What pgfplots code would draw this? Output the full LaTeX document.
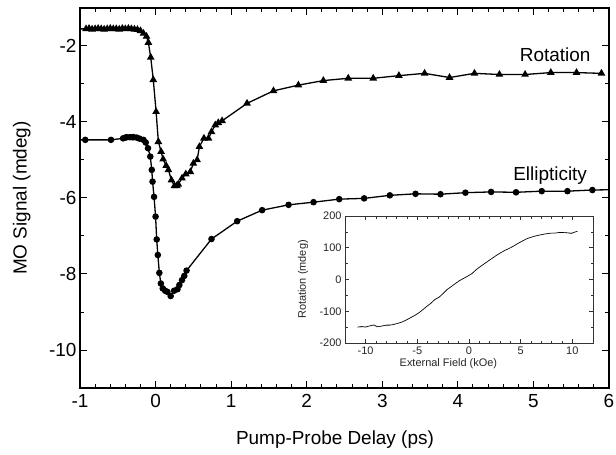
\documentclass[border=0pt]{standalone}
\usepackage{pgfplots}
\pgfplotsset{compat=1.18}
\usepackage{fontspec}
\setmainfont{Liberation Sans}

\pgfplotstableread{
x y
-1.10 -1.55
-0.92 -1.55
-0.88 -1.54
-0.84 -1.56
-0.80 -1.55
-0.76 -1.54
-0.72 -1.55
-0.68 -1.56
-0.64 -1.55
-0.60 -1.54
-0.56 -1.55
-0.52 -1.55
-0.48 -1.56
-0.44 -1.54
-0.40 -1.55
-0.36 -1.54
-0.32 -1.55
-0.28 -1.56
-0.24 -1.57
-0.20 -1.60
-0.16 -1.67
-0.12 -1.75
-0.095 -1.91
-0.064 -2.30
-0.03 -2.89
0.007 -3.73
0.037 -4.52
0.073 -4.78
0.10 -4.98
0.14 -5.15
0.17 -5.26
0.21 -5.53
0.25 -5.68
0.28 -5.68
0.30 -5.64
0.35 -5.48
0.40 -5.37
0.46 -5.31
0.50 -5.09
0.55 -5.00
0.58 -4.65
0.64 -4.43
0.70 -4.43
0.74 -4.26
0.79 -4.08
0.83 -4.02
0.88 -3.97
1.21 -3.51
1.56 -3.18
1.89 -3.03
2.22 -2.91
2.55 -2.85
2.88 -2.85
3.22 -2.78
3.56 -2.72
3.89 -2.83
4.22 -2.72
4.55 -2.75
4.89 -2.75
5.23 -2.70
5.57 -2.70
5.90 -2.72
}\rotdata

\pgfplotstableread{
x y
-1.10 -4.47
-0.93 -4.47
-0.59 -4.47
-0.43 -4.43
-0.40 -4.41
-0.38 -4.40
-0.34 -4.40
-0.31 -4.40
-0.29 -4.40
-0.25 -4.41
-0.21 -4.44
-0.16 -4.47
-0.13 -4.54
-0.10 -4.69
-0.07 -4.91
-0.05 -5.26
-0.04 -5.57
-0.02 -5.97
0.00 -6.49
0.015 -7.09
0.03 -7.50
0.05 -7.97
0.07 -8.25
0.095 -8.38
0.126 -8.44
0.157 -8.47
0.20 -8.58
0.245 -8.44
0.29 -8.40
0.315 -8.29
0.35 -8.16
0.38 -8.05
0.41 -7.91
0.74 -7.08
1.08 -6.61
1.41 -6.32
1.76 -6.18
2.09 -6.11
2.43 -6.03
2.76 -6.01
3.10 -5.93
3.44 -5.89
3.77 -5.90
4.10 -5.86
4.44 -5.84
4.77 -5.85
5.11 -5.82
5.45 -5.82
5.78 -5.79
6.10 -5.78
}\elldata

\pgfplotstableread{
x y
-10.8 -150
-10.4 -148
-10.0 -150
-9.6 -146
-9.2 -143
-8.9 -149
-8.5 -147
-8.1 -144
-7.7 -144
-7.3 -142
-6.9 -138
-6.5 -134
-6.1 -128
-5.7 -121
-5.3 -114
-4.9 -106
-4.5 -96
-4.1 -85
-3.7 -75
-3.3 -63
-2.9 -56
-2.5 -44
-2.1 -31
-1.7 -22
-1.3 -12
-0.9 -3
-0.5 4
-0.1 11
0.3 19
0.7 31
1.1 41
1.5 50
1.9 59
2.3 68
2.7 77
3.1 85
3.5 92
3.9 98
4.3 105
4.7 113
5.1 120
5.5 127
5.9 132
6.3 136
6.7 139
7.1 142
7.5 144
7.9 146
8.3 146
8.7 148
9.1 148
9.5 147
9.9 145
10.2 149
10.5 152
}\hystA

\pgfplotstableread{
x y
-10.6 -151
-10.2 -149
-9.8 -147
-9.4 -145
-9.0 -146
-8.6 -148
-8.2 -145
-7.8 -142
-7.4 -141
-7.0 -139
-6.6 -136
-6.2 -130
-5.8 -123
-5.4 -116
-5.0 -108
-4.6 -99
-4.2 -88
-3.8 -78
-3.4 -66
-3.0 -57
-2.6 -47
-2.2 -34
-1.8 -24
-1.4 -15
-1.0 -6
-0.6 2
-0.2 9
0.2 17
0.6 28
1.0 38
1.4 48
1.8 57
2.2 66
2.6 75
3.0 83
3.4 91
3.8 97
4.2 104
4.6 111
5.0 118
5.4 125
5.8 131
6.2 135
6.6 139
7.0 141
7.4 144
7.8 145
8.2 147
8.6 147
9.0 149
9.4 148
9.8 147
10.1 148
10.4 150
}\hystB

\begin{document}
\begin{tikzpicture}
\useasboundingbox (-80bp,-67bp) rectangle (536bp,388bp);
\begin{axis}[
  at={(0bp,0bp)}, anchor=south west,
  scale only axis, width=529bp, height=380bp,
  xmin=-1, xmax=6, ymin=-11, ymax=-1,
  xtick={-1,0,...,6}, ytick={-10,-8,...,-2},
  minor x tick num=4, minor y tick num=1,
  tick align=inside,
  major tick length=7bp, minor tick length=4bp,
  axis line style={line width=1.2bp},
  every tick/.style={line width=1bp, black},
  /pgf/number format/assume math mode=true,
  tick label style={font=\fontsize{19}{22}\selectfont},
  xticklabel style={yshift=-3bp},
  label style={font=\fontsize{19}{22}\selectfont},
  xlabel={Pump-Probe Delay (ps)},
  ylabel={MO Signal (mdeg)},
  xlabel style={at={(axis description cs:0.482,-0.137)}, anchor=center},
  ylabel style={at={(axis description cs:-0.110,0.5)}, anchor=center},
  clip=true,
]
\addplot[black, line width=1.3bp, mark=triangle*, mark size=3.2bp,
  mark options={solid}] table[x=x,y=y] {\rotdata};
\addplot[black, line width=1.3bp, mark=*, mark size=2.6bp,
  mark options={solid}] table[x=x,y=y] {\elldata};
\node[anchor=base east, font=\fontsize{19}{22}\selectfont] at (axis cs:5.80,-2.41) {Rotation};
\node[anchor=base east, font=\fontsize{19}{22}\selectfont] at (axis cs:5.755,-5.53) {Ellipticity};
\end{axis}
\begin{axis}[
  at={(265bp,45bp)}, anchor=south west,
  scale only axis, width=248bp, height=127bp,
  xmin=-12, xmax=12, ymin=-200, ymax=200,
  xtick={-10,-5,...,10}, ytick={-200,-100,...,200},
  minor x tick num=4, minor y tick num=1,
  tick align=inside,
  major tick length=4bp, minor tick length=2.5bp,
  axis line style={line width=0.7bp, black!80},
  every tick/.style={line width=0.6bp, black!80},
  /pgf/number format/assume math mode=true,
  tick label style={font=\fontsize{11}{13}\selectfont, text=black!85},
  label style={font=\fontsize{11}{13}\selectfont, text=black!85},
  xlabel={External Field (kOe)},
  ylabel={Rotation (mdeg)},
  xlabel style={at={(axis description cs:0.417,-0.165)}, anchor=center},
  ylabel style={at={(axis description cs:-0.169,0.5)}, anchor=center},
]
\addplot[gray!60, line width=0.6bp, no markers] table[x=x,y=y] {\hystB};
\addplot[black, line width=0.6bp, no markers] table[x=x,y=y] {\hystA};
\end{axis}
\end{tikzpicture}
\end{document}
